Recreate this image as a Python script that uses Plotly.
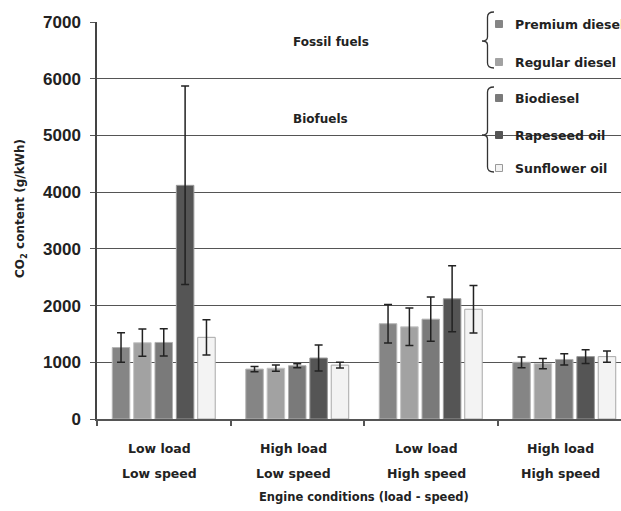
import plotly.graph_objects as go

categories = ["Low load<br>Low speed", "High load<br>Low speed",
              "Low load<br>High speed", "High load<br>High speed"]
cat_load = ["Low load", "High load", "Low load", "High load"]
cat_speed = ["Low speed", "Low speed", "High speed", "High speed"]

fuels = ["Premium diesel", "Regular diesel", "Biodiesel", "Rapeseed oil", "Sunflower oil"]
premium = [1260, 880, 1680, 1000]
regular = [1345, 895, 1625, 975]
biodiesel = [1350, 940, 1760, 1050]
rapeseed = [4120, 1075, 2120, 1100]
sunflower = [1440, 950, 1935, 1100]

premium_err = [260, 45, 340, 95]
regular_err = [240, 55, 330, 90]
biodiesel_err = [240, 35, 390, 100]
rapeseed_err = [1750, 230, 580, 120]
sunflower_err = [310, 50, 420, 100]

values = [premium, regular, biodiesel, rapeseed, sunflower]
errors = [premium_err, regular_err, biodiesel_err, rapeseed_err, sunflower_err]
colors = ["#858585", "#a2a2a2", "#7a7a7a", "#555555", "#f3f3f3"]
edges = ["#b5b5b5", "#c5c5c5", "#b0b0b0", "#9a9a9a", "#a8a8a8"]

group_labels = ["Fossil fuels", "Biofuels"]

fig = go.Figure()
for name, v, e, c, ec in zip(fuels, values, errors, colors, edges):
    fig.add_trace(go.Bar(
        x=categories, y=v, name=name,
        marker=dict(color=c, line=dict(color=ec, width=1)),
        error_y=dict(type="data", array=e, color="#222222", thickness=1.5, width=4),
        showlegend=False,
    ))

# pixel -> paper helpers (layout geometry only)
L, R, T, B = 97, 621, 22, 419
def px(x):
    return (x - L) / (R - L)
def py(y):
    return (B - y) / (B - T)

FONT = "DejaVu Sans"
TXT = "#222222"
def f(size):
    return dict(family=FONT, size=size, color=TXT, weight="bold")

ann = []
# category labels
for c, ld, sp in zip(categories, cat_load, cat_speed):
    ann.append(dict(x=c, xref="x", y=py(449), yref="paper", text=ld, showarrow=False,
                    xanchor="center", yanchor="middle", xshift=-4, font=f(12.5)))
    ann.append(dict(x=c, xref="x", y=py(473), yref="paper", text=sp, showarrow=False,
                    xanchor="center", yanchor="middle", xshift=-4, font=f(12.5)))
# x-axis title
ann.append(dict(x=1.5, xref="x", y=py(497), yref="paper", text="Engine conditions (load - speed)",
                showarrow=False, xanchor="center", yanchor="middle", font=f(11.5)))
# y-axis title
ann.append(dict(x=px(21), xref="paper", y=py(209), yref="paper",
                text="CO<sub>2</sub> content (g/kWh)", textangle=-90, showarrow=False,
                xanchor="center", yanchor="middle", font=f(12)))
# group labels in plot
ann.append(dict(x=px(331), xref="paper", y=py(42), yref="paper", text=group_labels[0],
                showarrow=False, xanchor="center", yanchor="middle", font=f(12)))
ann.append(dict(x=px(320), xref="paper", y=py(119), yref="paper", text=group_labels[1],
                showarrow=False, xanchor="center", yanchor="middle", font=f(12)))

shapes = []
# white legend panel hiding gridlines
shapes.append(dict(type="rect", xref="paper", yref="paper", x0=px(473), x1=px(640),
                   y0=py(186), y1=py(-5), fillcolor="white", line=dict(width=0), layer="between"))
legend_y = [24, 62, 98, 135, 168]
for name, c, ly in zip(fuels, colors, legend_y):
    shapes.append(dict(type="rect", xref="paper", yref="paper",
                       x0=px(495.5), x1=px(502.5), y0=py(ly + 3.5), y1=py(ly - 3.5),
                       fillcolor=c, line=dict(color="#999999" if c == "#f3f3f3" else c, width=1),
                       layer="above"))
    ann.append(dict(x=px(513), xref="paper", y=py(ly), yref="paper", text=name,
                    showarrow=False, xanchor="left", yanchor="middle", font=f(12.5)))

def brace(y0, ym, y1, xr=494, xm=487.5, xt=482):
    def P(x, y):
        return f"{px(x):.5f},{py(y):.5f}"
    d = (f"M {P(xr, y0)} Q {P(xm, y0)} {P(xm, y0 + 5)} L {P(xm, ym - 4)} "
         f"Q {P(xm, ym)} {P(xt, ym)} Q {P(xm, ym)} {P(xm, ym + 4)} "
         f"L {P(xm, y1 - 5)} Q {P(xm, y1)} {P(xr, y1)}")
    return dict(type="path", xref="paper", yref="paper", path=d,
                line=dict(color="#333333", width=1.3), layer="above")

shapes.append(brace(12, 41, 68))
shapes.append(brace(87, 135, 172))

fig.update_layout(
    width=621, height=511,
    margin=dict(l=L, r=0, t=T, b=511 - B),
    paper_bgcolor="white", plot_bgcolor="white",
    barmode="group", bargap=0.2, bargroupgap=0.18,
    annotations=ann, shapes=shapes,
    xaxis=dict(type="category", range=[-0.5, 3.425], tickson="boundaries",
               ticks="outside", ticklen=5, tickcolor="#555", tickwidth=1.5,
               showticklabels=False, showline=True, linecolor="#555", linewidth=1.5,
               showgrid=False, zeroline=False),
    yaxis=dict(range=[0, 7000], dtick=1000, showgrid=True, gridcolor="#555", gridwidth=1,
               ticks="outside", ticklen=5, tickcolor="#555", showline=True,
               linecolor="#444", linewidth=1.5, zeroline=False,
               tickfont=dict(family="Liberation Sans", size=17, color="#222", weight="bold"),
               ticklabelstandoff=6),
)

fig.write_html("out.html")
